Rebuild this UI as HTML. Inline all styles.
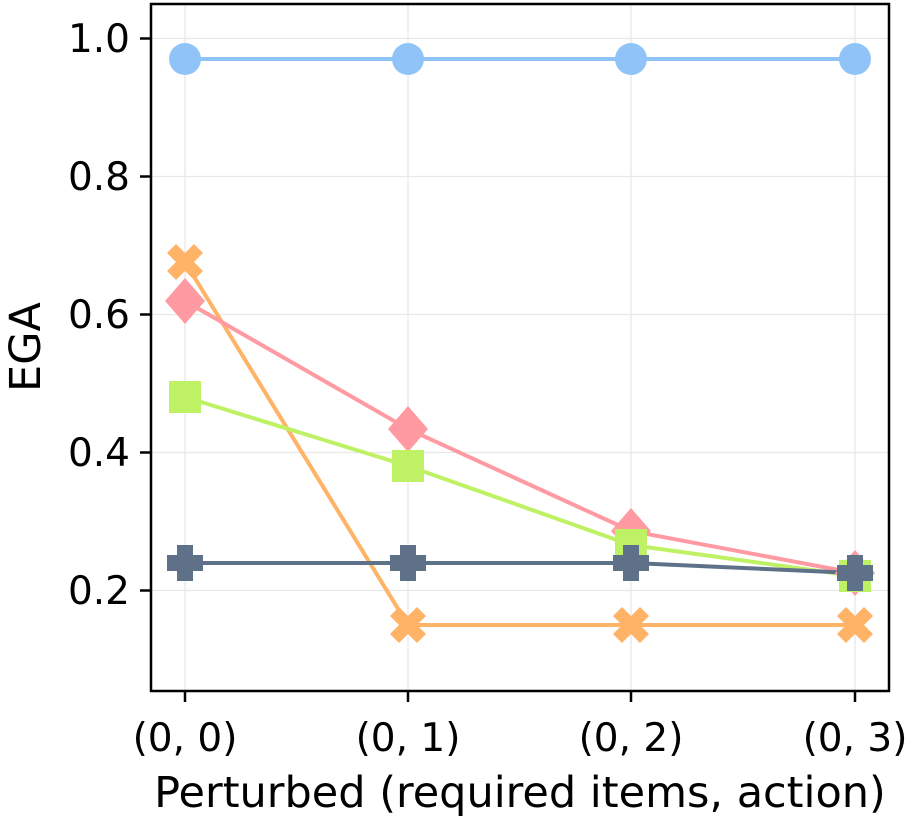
<!DOCTYPE html><html><head><style>body{margin:0;background:#fff}svg{display:block}text{font-family:"DejaVu Sans","Liberation Sans",sans-serif;fill:#000}</style></head><body>
<svg width="914" height="822" xmlns="http://www.w3.org/2000/svg">
<defs>
<path id="X" d="M-18,-9 L-9,-18 L0,-9 L9,-18 L18,-9 L9,0 L18,9 L9,18 L0,9 L-9,18 L-18,9 L-9,0Z"/>
<path id="P" d="M-8,-18 H8 V-8 H18 V8 H8 V18 H-8 V8 H-18 V-8 H-8Z"/>
<path id="D" d="M0,-23 L20,0 L0,23 L-20,0Z"/>
</defs>
<g stroke="#e8e8e8" stroke-width="1.3">
<line x1="185" y1="4" x2="185" y2="691"/><line x1="408" y1="4" x2="408" y2="691"/><line x1="631" y1="4" x2="631" y2="691"/><line x1="855" y1="4" x2="855" y2="691"/>
<line x1="151" y1="38.5" x2="889" y2="38.5"/><line x1="151" y1="176.5" x2="889" y2="176.5"/><line x1="151" y1="314.5" x2="889" y2="314.5"/><line x1="151" y1="452.5" x2="889" y2="452.5"/><line x1="151" y1="590.5" x2="889" y2="590.5"/>
</g>
<g fill="none" stroke-width="4">
<polyline stroke="#90c4f9" points="185,59 408,59 631,59 855,59"/>
<polyline stroke="#ffb366" points="185,262 408,625 631,625 855,625"/>
<polyline stroke="#ff9aa2" points="185,301 408,429 631,531 855,573"/>
<polyline stroke="#bef264" points="185,397 408,466 631,545 855,576"/>
<polyline stroke="#5f7089" points="185,563 408,563 631,563 855,573"/>
</g>
<g fill="#90c4f9"><circle cx="185" cy="59" r="16"/><circle cx="408" cy="59" r="16"/><circle cx="631" cy="59" r="16"/><circle cx="855" cy="59" r="16"/></g>
<g fill="#ffb366"><use href="#X" x="185" y="262"/><use href="#X" x="408" y="625"/><use href="#X" x="631" y="625"/><use href="#X" x="855" y="625"/></g>
<g fill="#ff9aa2"><use href="#D" x="185" y="301"/><use href="#D" x="408" y="429"/><use href="#D" x="631" y="531"/><use href="#D" x="855" y="573"/></g>
<g fill="#bef264"><rect x="169" y="381" width="32" height="32"/><rect x="392" y="450" width="32" height="32"/><rect x="615" y="529" width="32" height="32"/><rect x="839" y="560" width="32" height="32"/></g>
<g fill="#5f7089"><use href="#P" x="185" y="563"/><use href="#P" x="408" y="563"/><use href="#P" x="631" y="563"/><use href="#P" x="855" y="573"/></g>
<rect x="151" y="4" width="738" height="687" fill="none" stroke="#000" stroke-width="2.5"/>
<g stroke="#000" stroke-width="2.5">
<line x1="140" y1="38.5" x2="151" y2="38.5"/><line x1="140" y1="176.5" x2="151" y2="176.5"/><line x1="140" y1="314.5" x2="151" y2="314.5"/><line x1="140" y1="452.5" x2="151" y2="452.5"/><line x1="140" y1="590.5" x2="151" y2="590.5"/>
<line x1="185" y1="691" x2="185" y2="702"/><line x1="408" y1="691" x2="408" y2="702"/><line x1="631" y1="691" x2="631" y2="702"/><line x1="855" y1="691" x2="855" y2="702"/>
</g>
<g font-size="39" text-anchor="end">
<text x="130" y="52">1.0</text><text x="130" y="190">0.8</text><text x="130" y="328">0.6</text><text x="130" y="466">0.4</text><text x="130" y="604">0.2</text>
</g>
<g font-size="39" text-anchor="middle">
<text x="185" y="751">(0, 0)</text><text x="408" y="751">(0, 1)</text><text x="631" y="751">(0, 2)</text><text x="855" y="751">(0, 3)</text>
<text x="520" y="807" font-size="43">Perturbed (required items, action)</text>
<text transform="translate(40,347) rotate(-90)" font-size="43">EGA</text>
</g>
</svg></body></html>
